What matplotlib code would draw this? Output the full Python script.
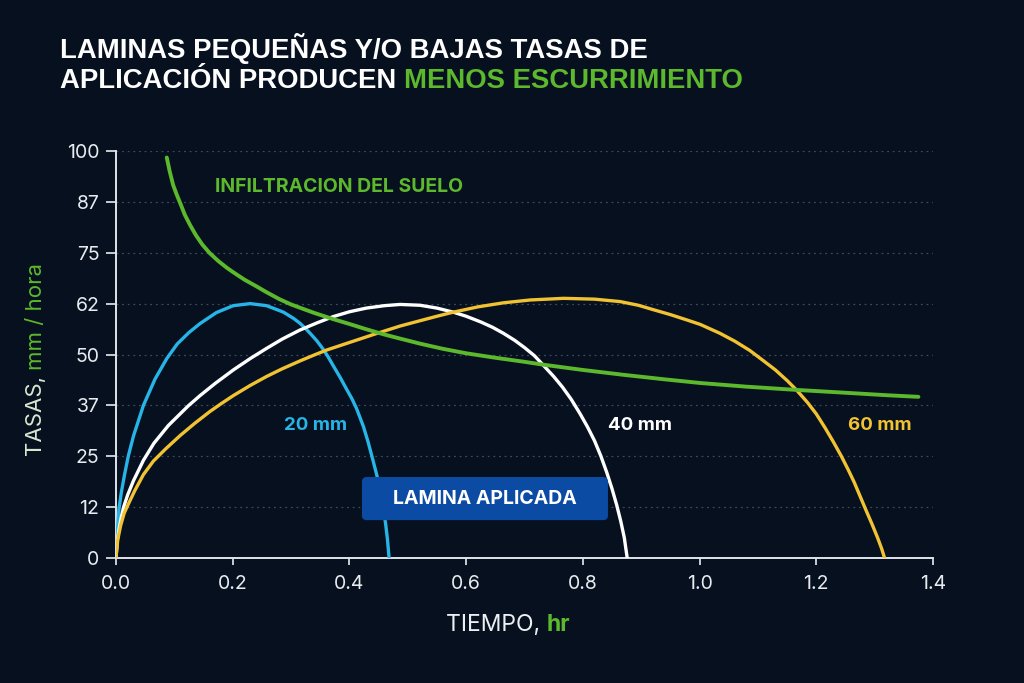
import matplotlib
matplotlib.use("Agg")
import matplotlib.pyplot as plt
from matplotlib.patches import FancyBboxPatch

# colores
BG = "#06101f"
C_BLUE = "#27b4e6"
C_WHITE = "#ffffff"
C_YELLOW = "#f1c232"
C_GREEN = "#5cb82c"
C_BOX = "#0b4ba3"

# lamina 20 mm
x20 = [0, 0.002, 0.005, 0.009, 0.014, 0.021, 0.030, 0.047, 0.067, 0.087, 0.105, 0.125,
       0.144, 0.172, 0.201, 0.230, 0.258, 0.287, 0.305, 0.315, 0.324, 0.332, 0.344, 0.355,
       0.364, 0.372, 0.384, 0.395, 0.404, 0.412, 0.424, 0.432, 0.440, 0.447, 0.453, 0.458,
       0.462, 0.465, 0.468]
y20 = [0, 5.5, 12, 16, 20, 25, 30, 37.5, 44, 49, 52.6, 55.4,
       57.6, 60.3, 62, 62.5, 62, 60.4, 58.8, 57.7, 56.5, 55.3, 53.4, 51.3,
       49.3, 47.3, 44.4, 41.5, 39.2, 36.8, 32.3, 28.5, 24.2, 20.3, 16.3, 12.4,
       8.4, 4.8, 0]

# lamina 40 mm
x40 = [0, 0.002, 0.005, 0.009, 0.013, 0.02, 0.03, 0.047, 0.065, 0.09, 0.124, 0.144, 0.17,
       0.201, 0.23, 0.258, 0.285, 0.315, 0.345, 0.372, 0.40, 0.429, 0.46, 0.487, 0.521,
       0.55, 0.578, 0.60, 0.625, 0.645, 0.664, 0.683, 0.70, 0.717, 0.732, 0.75, 0.765,
       0.78, 0.795, 0.808, 0.82, 0.831, 0.841, 0.850, 0.858, 0.865, 0.871, 0.876]
y40 = [0, 4, 7, 10, 12.5, 15.5, 19, 24, 28.2, 32.6, 37.4, 39.9, 42.9,
       46.2, 49, 51.5, 53.8, 56, 57.8, 59.3, 60.5, 61.4, 62, 62.3, 62.1,
       61.4, 60.4, 59.4, 58, 56.7, 55.2, 53.5, 51.7, 49.7, 47.4, 44.6, 42,
       39, 35.5, 32.2, 28.8, 25, 21, 17, 13, 9, 5, 0]

# lamina 60 mm
x60 = [0, 0.003, 0.008, 0.014, 0.021, 0.032, 0.047, 0.064, 0.085, 0.11, 0.135, 0.161, 0.18,
       0.201, 0.23, 0.258, 0.285, 0.315, 0.34, 0.361, 0.38, 0.401, 0.42, 0.441, 0.465,
       0.487, 0.521, 0.55, 0.575, 0.62, 0.664, 0.71, 0.767, 0.82, 0.864, 0.895, 0.921,
       0.95, 0.978, 1.001, 1.035, 1.06, 1.086, 1.11, 1.13, 1.15, 1.166, 1.185, 1.20,
       1.215, 1.229, 1.243, 1.255, 1.265, 1.275, 1.285, 1.295, 1.305, 1.312, 1.317]
y60 = [0, 4.5, 8, 11, 13.2, 16.5, 20.5, 23.8, 26.8, 30.1, 33.1, 36, 37.9,
       39.9, 42.4, 44.6, 46.5, 48.4, 49.9, 51.1, 52, 53, 53.9, 54.9, 56,
       57, 58.3, 59.4, 60.3, 61.7, 62.7, 63.4, 63.8, 63.6, 63, 62.1, 61,
       59.8, 58.5, 57.4, 55.2, 53.3, 51, 48.4, 46.2, 43.6, 41.3, 38.2, 35.4,
       32, 28.6, 25, 21.6, 18.6, 15.2, 11.8, 8.5, 5, 2.3, 0]

# infiltracion del suelo
x_inf = [0.087, 0.092, 0.098, 0.104, 0.110, 0.118, 0.127, 0.137, 0.148, 0.160, 0.175, 0.19,
         0.201, 0.22, 0.24, 0.258, 0.28, 0.30, 0.315, 0.34, 0.372, 0.40, 0.429, 0.46, 0.487,
         0.52, 0.56, 0.60, 0.65, 0.70, 0.732, 0.80, 0.87, 0.94, 1.001, 1.08, 1.166, 1.25,
         1.32, 1.375]
y_inf = [98.4, 95, 91.6, 89.3, 87.2, 84.3, 81.8, 79.3, 77, 75, 73, 71.3,
         70.2, 68.4, 66.8, 65.3, 63.6, 62.3, 61.5, 60.2, 58.7, 57.5, 56.2, 54.9, 53.9,
         52.7, 51.4, 50.3, 49.2, 48.2, 47.5, 46.2, 45, 43.9, 43, 42.1, 41.3, 40.6,
         40, 39.6]

x_ticks = [0.0, 0.2, 0.4, 0.6, 0.8, 1.0, 1.2, 1.4]
y_ticks = [0, 12.5, 25, 37.5, 50, 62.5, 75, 87.5, 100]
y_tick_labels = ["0", "12", "25", "37", "50", "62", "75", "87", "100"]

plt.rcParams["font.family"] = ["Inter", "DejaVu Sans"]

fig = plt.figure(figsize=(10.24, 6.83), dpi=100, facecolor=BG)
ax = fig.add_axes([116 / 1024, 125 / 683, 817 / 1024, 407 / 683])
ax.set_facecolor(BG)

for yv in y_ticks[1:]:
    ax.axhline(yv, color="#5a6a80", lw=0.9, ls=(0, (1.5, 3)), alpha=0.65, zorder=1)

ax.plot(x20, y20, color=C_BLUE, lw=2.4, zorder=3, solid_capstyle="round")
ax.plot(x40, y40, color=C_WHITE, lw=2.4, zorder=3, solid_capstyle="round")
ax.plot(x60, y60, color=C_YELLOW, lw=2.4, zorder=3, solid_capstyle="round")
ax.plot(x_inf, y_inf, color=C_GREEN, lw=2.8, zorder=4, solid_capstyle="round")

ax.set_xlim(0, 1.4)
ax.set_ylim(0, 100)
ax.set_xticks(x_ticks)
ax.set_xticklabels([f"{v:.1f}" for v in x_ticks])
ax.set_yticks(y_ticks)
ax.set_yticklabels(y_tick_labels)
ax.tick_params(colors="#e8ecf0", labelsize=14, width=1.2)
ax.tick_params(axis="y", length=7, pad=5)
ax.tick_params(axis="x", length=5, pad=7)
for s in ["top", "right"]:
    ax.spines[s].set_visible(False)
for s in ["left", "bottom"]:
    ax.spines[s].set_color("#dfe4ea")
    ax.spines[s].set_linewidth(1.4)

# etiquetas de curvas
ax.text(0.170, 91.2, "INFILTRACION DEL SUELO", color=C_GREEN, fontsize=14,
        fontweight="bold", va="center")
ax.text(0.288, 32.5, "20 mm", color=C_BLUE, fontsize=13.5, fontweight="bold", va="center")
ax.text(0.843, 32.5, "40 mm", color=C_WHITE, fontsize=13.5, fontweight="bold", va="center")
ax.text(1.254, 32.5, "60 mm", color=C_YELLOW, fontsize=13.5, fontweight="bold", va="center")

# recuadro
box = FancyBboxPatch((0.4215, 9.3), 0.4215, 10.6,
                     boxstyle="round,pad=0,rounding_size=0.008",
                     mutation_aspect=143, fc=C_BOX, ec="none", zorder=5)
ax.add_patch(box)
ax.text(0.632, 14.6, "LAMINA APLICADA", color="white", fontsize=14,
        fontweight="bold", ha="center", va="center", zorder=6)

# ejes
t = fig.text(446 / 1024, 1 - 625 / 683, "TIEMPO, ", color="#eef1f4", fontsize=16.5,
             va="center", ha="left")
fig.canvas.draw()
ax.annotate("hr", xy=(1, 0), xycoords=t, color=C_GREEN, fontsize=16.5,
            fontweight="bold", va="bottom", ha="left", annotation_clip=False)

ty = fig.text(36 / 1024, 1 - 456 / 683, "TASAS, ", color="#d6e8cf", fontsize=16,
              rotation=90, ha="center", va="bottom")
fig.canvas.draw()
ax.annotate("mm / hora", xy=(0.5, 1), xycoords=ty, color=C_GREEN, fontsize=16,
            rotation=90, ha="center", va="bottom", annotation_clip=False)

# titulo
tf = ["Liberation Sans", "DejaVu Sans"]
fig.text(60 / 1024, 1 - 58 / 683, "LAMINAS PEQUEÑAS Y/O BAJAS TASAS DE", color="white",
         fontsize=19.8, fontweight="bold", family=tf, va="baseline")
t2 = fig.text(60 / 1024, 1 - 88 / 683, "APLICACIÓN PRODUCEN ", color="white",
              fontsize=19.8, fontweight="bold", family=tf, va="baseline")
fig.canvas.draw()
ax.annotate("MENOS ESCURRIMIENTO", xy=(1, 0), xycoords=t2, color=C_GREEN,
            fontsize=19.8, fontweight="bold", family=tf, va="bottom", ha="left",
            annotation_clip=False)

fig.savefig("out.png", dpi=100, facecolor=BG)
